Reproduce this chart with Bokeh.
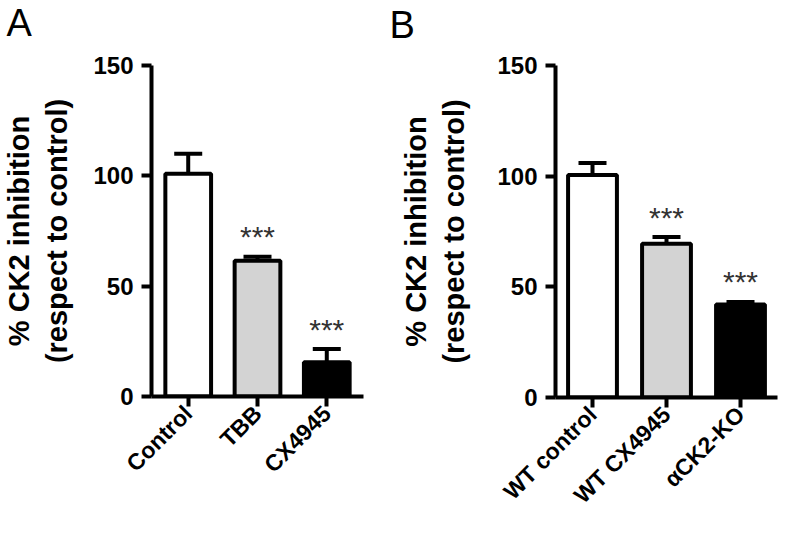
import math
from bokeh.plotting import figure
from bokeh.models import FactorRange, FixedTicker, Whisker, TeeHead, ColumnDataSource, Title
from bokeh.layouts import row
from bokeh.embed import file_html
from bokeh.resources import INLINE
from bokeh.core.properties import value

# ---- data ----
a_groups = ["Control", "TBB", "CX4945"]
a_means = [101.0, 61.5, 15.5]
a_errors = [9.0, 1.8, 6.0]
a_stars = ["", "***", "***"]

b_groups = ["WT control", "WT CX4945", "αCK2-KO"]
b_means = [100.5, 69.5, 42.0]
b_errors = [5.5, 3.0, 1.2]
b_stars = ["", "***", "***"]

bar_colors = ["#ffffff", "#d3d3d3", "#000000"]
y_ticks = [0, 50, 100, 150]
y_title = "% CK2 inhibition\n(respect to control)"

FONT = "Liberation Sans"


def panel(letter, groups, means, errors, stars, fw, fh, left, right, top, bottom,
          pad, title_standoff, spacer_standoff):
    p = figure(frame_width=fw, frame_height=fh, title=None,
               x_range=FactorRange(*groups, range_padding=pad),
               y_range=(0, 150),
               output_backend="svg", toolbar_location=None,
               min_border_left=left, min_border_right=right,
               min_border_top=top, min_border_bottom=bottom,
               background_fill_color="white", border_fill_color="white")
    upper = [m + e for m, e in zip(means, errors)]
    star_y = [u + 9 for u in upper]
    src = ColumnDataSource(dict(x=groups, top=means, upper=upper, color=bar_colors,
                                star=stars, star_y=star_y))
    p.vbar(x="x", top="top", bottom=0, width=0.66, fill_color="color",
           line_color="black", line_width=4, source=src)
    w = Whisker(base="x", lower="top", upper="upper", source=src,
                line_width=4, line_color="black",
                upper_head=TeeHead(size=28, line_width=4, line_color="black"),
                lower_head=None, level="annotation")
    p.add_layout(w)
    p.text(x="x", y="star_y", text="star", source=src, text_align="center",
           text_baseline="middle", text_font=value(FONT), text_font_size="30px",
           text_color="#333333")

    p.xgrid.visible = False
    p.ygrid.visible = False
    p.outline_line_color = None
    p.yaxis.ticker = FixedTicker(ticks=y_ticks)
    for ax in (p.xaxis, p.yaxis):
        ax.axis_line_width = 4
        ax.axis_line_color = "black"
        ax.major_tick_line_width = 4
        ax.major_tick_line_color = "black"
        ax.major_tick_out = 10
        ax.major_tick_in = 0
        ax.minor_tick_line_color = None
        ax.major_label_text_font = FONT
        ax.major_label_text_font_style = "bold"
        ax.major_label_text_color = "black"
    p.yaxis.major_label_text_font_size = "24px"
    p.yaxis.major_label_standoff = 8
    p.xaxis.major_label_text_font_size = "23px"
    p.xaxis.major_label_orientation = math.pi / 4
    p.xaxis.major_label_standoff = 3
    p.yaxis.axis_label = y_title
    p.yaxis.axis_label_text_font = FONT
    p.yaxis.axis_label_text_font_style = "bold"
    p.yaxis.axis_label_text_font_size = "29px"
    p.yaxis.axis_label_text_color = "black"
    p.yaxis.axis_label_standoff = title_standoff

    # spacer (closest to frame), then the panel letter above it
    p.add_layout(Title(text=" ", text_font_size="12px", standoff=spacer_standoff), "above")
    p.add_layout(Title(text=letter, text_font=FONT, text_font_style="normal",
                       text_font_size="38px", text_color="black", align="left",
                       offset=-left, vertical_align="top", standoff=2), "above")
    return p


pa = panel("A", a_groups, a_means, a_errors, a_stars, fw=212, fh=331,
           left=145, right=26, top=65, bottom=519 - 65 - 331, pad=0.02,
           title_standoff=17, spacer_standoff=3)
pb = panel("B", b_groups, b_means, b_errors, b_stars, fw=222, fh=332,
           left=166, right=1, top=63, bottom=519 - 63 - 332, pad=0.0,
           title_standoff=24, spacer_standoff=1)

layout = row(pa, pb)
open("out.html", "w").write(file_html(layout, INLINE))
